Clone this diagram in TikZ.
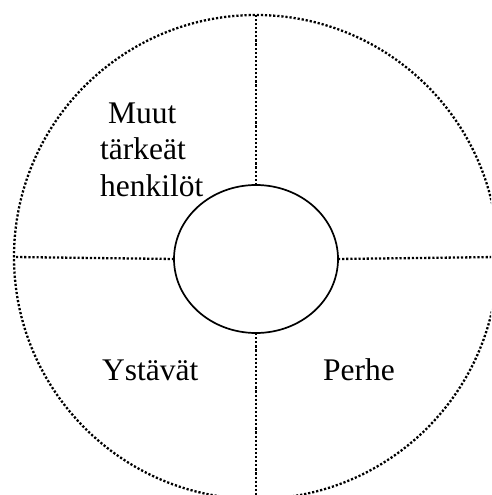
\documentclass[tikz,border=0pt]{standalone}
\usepackage{fontspec}
\setmainfont{Liberation Serif}
\usetikzlibrary{shapes.geometric}
\begin{document}
\begin{tikzpicture}[x=1pt,y=-1pt,
  dotline/.style={line width=2.3pt,dash pattern=on 2.2pt off 1.9pt},
  lbl/.style={anchor=base west,inner sep=0pt,font=\fontsize{31.5}{36}\selectfont}]
\useasboundingbox (0,0) rectangle (491,495);
\clip (0,0) rectangle (491,495);
\node[circle,draw,dotline,minimum size=484pt,inner sep=0pt,outer sep=0pt] (outer) at (256,257) {};
\node[ellipse,draw,line width=1.7pt,fill=white,minimum width=164pt,minimum height=148pt,inner sep=0pt,outer sep=0pt] (self) at (256,259) {};
\draw[dotline] (self.north) -- (outer.north);
\draw[dotline] (self.south) -- (outer.south);
\draw[dotline] (self.west) -- (outer.west);
\draw[dotline] (self.east) -- (outer.east);
\node[lbl] (m1) at (108,123) {Muut};
\node[lbl] (m2) at (100,159) {tärkeät};
\node[lbl] (m3) at (100,196) {henkilöt};
\node[lbl] (ys) at (102,380) {Ystävät};
\node[lbl] (pe) at (323,380) {Perhe};
\end{tikzpicture}
\end{document}
